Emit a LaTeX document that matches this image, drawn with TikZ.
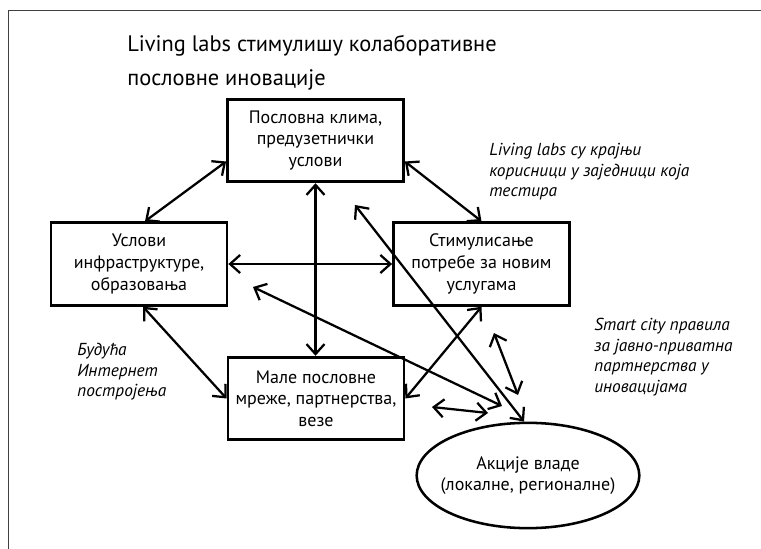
\documentclass[tikz,border=0pt]{standalone}
\usepackage{fontspec}
\setmainfont{PT Sans}
\usetikzlibrary{arrows.meta,shapes.geometric,calc}

\begin{document}
\begin{tikzpicture}
  \begin{scope}[x=0.75pt,y=-0.75pt,
    every node/.style={font=\fontsize{13.5}{16.2}\selectfont,align=center},
    box/.style={draw,line width=2.1pt,minimum width=132pt,minimum height=62pt,inner sep=2pt},
    oval/.style={ellipse,draw,line width=1.9pt,minimum width=167pt,minimum height=79pt,inner xsep=-14pt,inner ysep=0pt},
    note/.style={font=\fontsize{13}{15.4}\selectfont\itshape,align=left,anchor=north west,inner sep=0pt},
    link/.style={line width=1.7pt,{Straight Barb[length=7.5pt,width=13.5pt]}-{Straight Barb[length=7.5pt,width=13.5pt]}}]
    % \draw[help lines,step=50] (0,0) grid (761,549);
    \useasboundingbox (0,0) rectangle (761,549);
    \draw[line width=0.7pt,black!75] (8,549) -- (8,10) -- (761,10);

    \node[font=\fontsize{16.8}{25.5}\selectfont,align=left,anchor=north west,inner sep=0pt]
      (title) at (127,35) {Living labs стимулишу колаборативне\\пословне иновације};

    \node[box] (klima) at (315.5,140.5) {Пословна клима,\\предузетнички\\услови};
    \node[box] (uslovi) at (139,264) {Услови\\инфраструктуре,\\образовања};
    \node[box] (potrebe) at (481.5,264) {Стимулисање\\потребе за новим\\услугама};
    \node[box] (mreze) at (316,398.5) {Мале пословне\\мреже, партнерства,\\везе};
    \node[oval] (vlada) at (528,475.5) {Акције владе\\(локалне, регионалне)};

    \node[note] (labs) at (489,143) {Living labs су крајњи\\корисници у заједници која\\тестира};
    \node[note] (smart) at (594,318) {Smart city правила\\за јавно-приватна\\партнерства у\\иновацијама};
    \node[note] (buduca) at (77,343) {Будућа\\Интернет\\постројења};

    % free ends
    \coordinate (p1) at (355,205);
    \coordinate (p2) at (253,287);
    \coordinate (p3) at (502,406);
    \coordinate (p4) at (432,407);
    \coordinate (p5) at (488,413);
    \coordinate (p6) at (494,333);
    \coordinate (p7) at (518,395);

    \draw[link] ($(uslovi.north)+(6,0)$) -- ($(klima.west)+(0,21)$);
    \draw[link] ($(klima.east)+(0,21)$) -- (potrebe.north);
    \draw[link] (klima.south) -- (klima.south |- mreze.north);
    \draw[link] (uslovi.east) -- (potrebe.west);
    \draw[link] ($(uslovi.south)+(4,0)$) -- (mreze.west);
    \draw[link] (mreze.east) -- (potrebe.south);
    \draw[link] (p1) -- ($(vlada.north)+(-4,0)$);
    \draw[link] (p2) -- (p3);
    \draw[link] (p4) -- (p5);
    \draw[link] (p6) -- (p7);
  \end{scope}
\end{tikzpicture}
\end{document}
